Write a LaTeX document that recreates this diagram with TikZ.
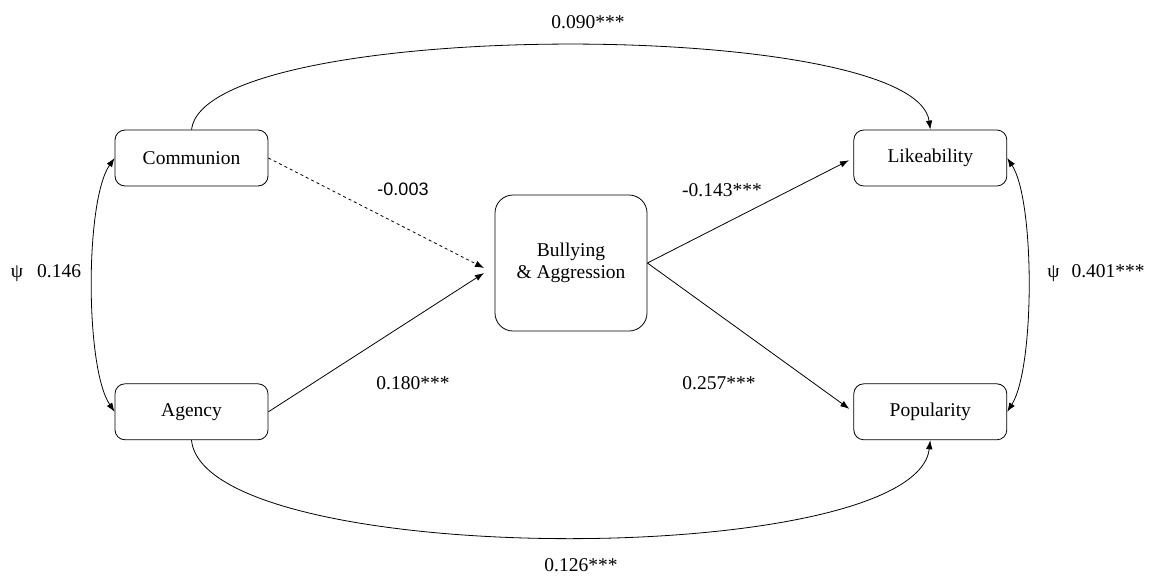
\documentclass[tikz,border=0pt]{standalone}
\usepackage{fontspec}
\setmainfont{Liberation Serif}
\newfontfamily\arialfont{Liberation Sans}
\usetikzlibrary{arrows.meta,positioning}

\begin{document}
\begin{tikzpicture}[x=1pt,y=-1pt,->,>={Latex[length=9pt,width=6.5pt]},
  line width=0.8pt,
  font=\fontsize{19.5}{23}\selectfont,
  var node/.style={draw,rounded corners=10pt,minimum width=153pt,minimum height=56pt,inner sep=0pt},
  med node/.style={draw,rounded corners=18pt,minimum width=152pt,minimum height=136pt,inner sep=0pt,align=center},
  coef/.style={inner sep=0pt}]

  \useasboundingbox (0,0) rectangle (1153,576);

  \node[var node] (comm) at (191.5,158) {Communion};
  \node[var node] (agen) [below=197pt of comm] {Agency};
  \node[var node] (like) [right=585pt of comm] {Likeability};
  \node[var node] (popu) [right=585pt of agen] {Popularity};
  \node[med node] (bull) at (571,263) {Bullying\\[-1pt]\& Aggression};

  % arrow ends in front of the mediator
  \coordinate (inA) at (484,268);
  \coordinate (inB) at (484,273);

  \draw[dashed] (comm.east) -- (inA);
  \draw (agen.east) -- (inB);
  \draw[shorten >=5pt] (bull.east) -- (like.west);
  \draw[shorten >=5pt] (bull.east) -- (popu.west);

  % direct paths
  \draw (comm.north) .. controls (205,17) and (915,17) .. (like.north);
  \draw (agen.south) .. controls (205,570) and (915,570) .. (popu.south);

  % covariances
  \draw[<->] (comm.west) .. controls (85,200) and (85,368) .. (agen.west);
  \draw[<->] (like.east) .. controls (1035,200) and (1035,368) .. (popu.east);

  \node[coef] (c1) at (588,22) {0.090***};
  \node[coef] (c2) at (581,565) {0.126***};
  \node[coef] (c3) at (403,189) {\arialfont\fontsize{18}{22}\selectfont -0.003};
  \node[coef] (c4) at (413,383) {0.180***};
  \node[coef] (c5) at (722,190) {-0.143***};
  \node[coef] (c6) at (719,383) {0.257***};
  \node[coef] (c7) at (46,273) {ψ\hspace{14pt}0.146};
  \node[coef] (c8) at (1096,273) {ψ\hspace{12pt}0.401***};
\end{tikzpicture}
\end{document}
